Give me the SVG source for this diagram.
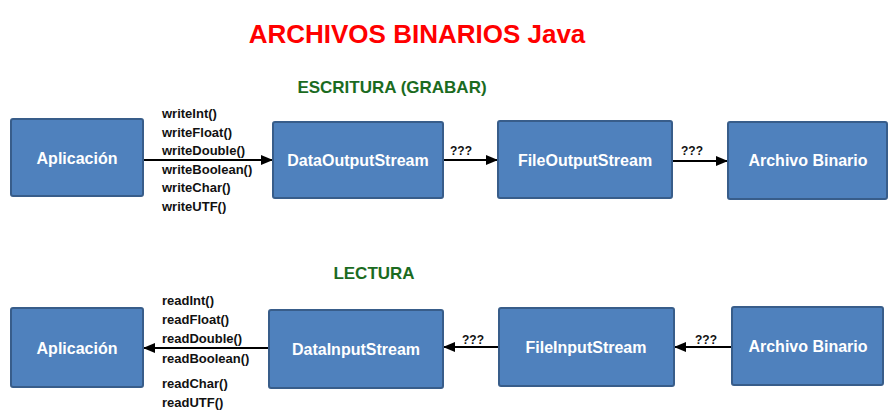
<svg xmlns="http://www.w3.org/2000/svg" width="896" height="414" viewBox="0 0 896 414">
<style>
.box{fill:#4F81BD;stroke:#385D8A;stroke-width:2}
.bt{font-family:"Liberation Sans",Arial,sans-serif;font-weight:bold;font-size:16px;fill:#FFFFFF;text-anchor:middle}
.m{font-family:"Liberation Sans",Arial,sans-serif;font-weight:bold;font-size:13px;fill:#111111}
.q{font-family:"Liberation Sans",Arial,sans-serif;font-weight:bold;font-size:12px;fill:#111111;text-anchor:middle}
.h{font-family:"Liberation Sans",Arial,sans-serif;font-weight:bold;font-size:17px;fill:#1B6B1F;text-anchor:middle}
.t{font-family:"Liberation Sans",Arial,sans-serif;font-weight:bold;font-size:26px;fill:#FF0000;text-anchor:middle}
.c{stroke:#000000;stroke-width:2;fill:none;marker-end:url(#ah)}
</style>
<defs>
<marker id="ah" viewBox="0 0 12 10" refX="12" refY="5" markerWidth="12" markerHeight="10" markerUnits="userSpaceOnUse" orient="auto">
<path d="M0,0 L12,5 L0,10 Z" fill="#000000"/>
</marker>
</defs>
<rect width="896" height="414" fill="#FFFFFF"/>
<text class="t" x="417" y="43">ARCHIVOS BINARIOS Java</text>
<text class="h" x="392" y="93">ESCRITURA (GRABAR)</text>
<text class="h" x="374" y="279">LECTURA</text>

<g id="connectors">
<line class="c" x1="143" y1="160" x2="273" y2="160"/>
<line class="c" x1="443" y1="160" x2="498" y2="160"/>
<line class="c" x1="672" y1="161" x2="728" y2="161"/>
<line class="c" x1="269" y1="348" x2="143" y2="348"/>
<line class="c" x1="499" y1="347" x2="443" y2="347"/>
<line class="c" x1="732" y1="347" x2="674" y2="347"/>
<text class="q" x="461" y="155">???</text>
<text class="q" x="692" y="155">???</text>
<text class="q" x="473" y="344">???</text>
<text class="q" x="706" y="344">???</text>
<g id="write-methods">
<text class="m" x="162" y="118">writeInt()</text>
<text class="m" x="162" y="137">writeFloat()</text>
<text class="m" x="162" y="155">writeDouble()</text>
<text class="m" x="162" y="174">writeBoolean()</text>
<text class="m" x="162" y="192">writeChar()</text>
<text class="m" x="162" y="211">writeUTF()</text>
</g>
<g id="read-methods">
<text class="m" x="162" y="305">readInt()</text>
<text class="m" x="162" y="324">readFloat()</text>
<text class="m" x="162" y="343">readDouble()</text>
<text class="m" x="162" y="363">readBoolean()</text>
<text class="m" x="162" y="388">readChar()</text>
<text class="m" x="162" y="407">readUTF()</text>
</g>
</g>

<g id="app-w"><rect class="box" x="11" y="119" width="132" height="77" rx="2"/><text class="bt" x="77" y="164">Aplicación</text></g>
<g id="dos"><rect class="box" x="273" y="122" width="170" height="76" rx="2"/><text class="bt" x="358" y="166">DataOutputStream</text></g>
<g id="fos"><rect class="box" x="498" y="121" width="174" height="77" rx="2"/><text class="bt" x="585" y="166">FileOutputStream</text></g>
<g id="ab-w"><rect class="box" x="728" y="122" width="159" height="77" rx="2"/><text class="bt" x="808" y="166">Archivo Binario</text></g>

<g id="app-r"><rect class="box" x="11" y="308" width="132" height="79" rx="2"/><text class="bt" x="77" y="354">Aplicación</text></g>
<g id="dis"><rect class="box" x="269" y="310" width="174" height="78" rx="2"/><text class="bt" x="356" y="355">DataInputStream</text></g>
<g id="fis"><rect class="box" x="499" y="308" width="175" height="78" rx="2"/><text class="bt" x="586" y="353">FileInputStream</text></g>
<g id="ab-r"><rect class="box" x="732" y="307" width="151" height="78" rx="2"/><text class="bt" x="808" y="352">Archivo Binario</text></g>
</svg>
